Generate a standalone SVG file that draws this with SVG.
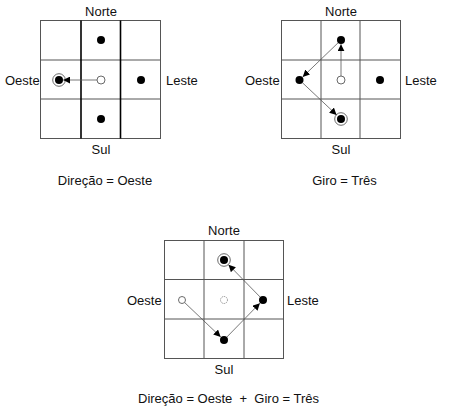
<svg xmlns="http://www.w3.org/2000/svg" width="449" height="413" viewBox="0 0 449 413">
<defs>
<style>
text{font-family:"Liberation Sans",Arial,sans-serif;font-size:13px;fill:#111}
.m{text-anchor:middle}
.g{fill:none;stroke:#555;stroke-width:1}
.gv{stroke:#000;stroke-width:1.6}
.d{fill:#000}
.ring{fill:none;stroke:#444;stroke-width:0.8}
.o{fill:#fff;stroke:#444;stroke-width:0.8}
.od{fill:#fff;stroke:#777;stroke-width:0.8;stroke-dasharray:1.2 0.8}
.a{stroke:#555;stroke-width:0.8;fill:none;marker-end:url(#ah)}
</style>
<marker id="ah" viewBox="0 0 10 10" refX="10" refY="5" markerWidth="7" markerHeight="7" markerUnits="userSpaceOnUse" orient="auto">
<path d="M0,0 L10,5 L0,10 Z" fill="#000"/>
</marker>
</defs>
<g id="grid1">
<rect class="g" x="40.5" y="20.5" width="120" height="118"/>
<line class="g" x1="40.5" y1="60" x2="160.5" y2="60"/>
<line class="g" x1="40.5" y1="99" x2="160.5" y2="99"/>
<line class="g gv" x1="81" y1="20.5" x2="81" y2="138.5"/>
<line class="g gv" x1="120.5" y1="20.5" x2="120.5" y2="138.5"/>
<circle class="d" cx="101" cy="40" r="4"/>
<circle class="d" cx="141" cy="80" r="4"/>
<circle class="d" cx="101" cy="119" r="4"/>
<circle class="d" cx="59" cy="80" r="4"/>
<circle class="ring" cx="59" cy="80" r="6.3"/>
<circle class="o" cx="101" cy="80" r="4"/>
<text class="m" x="101" y="15.5">Norte</text>
<text x="5" y="84.5">Oeste</text>
<text x="166" y="84.5">Leste</text>
<text class="m" x="101" y="153.5">Sul</text>
<text class="m" x="105" y="184.5">Direção = Oeste</text>
</g>
<g id="grid2">
<rect class="g" x="281.5" y="20.5" width="119" height="118"/>
<line class="g" x1="281.5" y1="60" x2="400.5" y2="60"/>
<line class="g" x1="281.5" y1="99" x2="400.5" y2="99"/>
<line class="g" x1="321" y1="20.5" x2="321" y2="138.5"/>
<line class="g" x1="360" y1="20.5" x2="360" y2="138.5"/>
<circle class="d" cx="341" cy="40" r="4"/>
<circle class="d" cx="299.5" cy="80" r="4"/>
<circle class="d" cx="380" cy="80" r="4"/>
<circle class="d" cx="341" cy="119" r="4"/>
<circle class="ring" cx="341" cy="119" r="6.3"/>
<circle class="o" cx="341" cy="80" r="4"/>
<text class="m" x="341" y="15.5">Norte</text>
<text x="245" y="84.5">Oeste</text>
<text x="405" y="84.5">Leste</text>
<text class="m" x="341" y="153.5">Sul</text>
<text class="m" x="344.5" y="184.5">Giro = Três</text>
</g>
<g id="grid3">
<rect class="g" x="164.5" y="240.5" width="119" height="118"/>
<line class="g" x1="164.5" y1="279.5" x2="283.5" y2="279.5"/>
<line class="g" x1="164.5" y1="319" x2="283.5" y2="319"/>
<line class="g" x1="204" y1="240.5" x2="204" y2="358.5"/>
<line class="g" x1="244" y1="240.5" x2="244" y2="358.5"/>
<circle class="d" cx="224" cy="260" r="4"/>
<circle class="ring" cx="224" cy="260" r="6.3"/>
<circle class="d" cx="263" cy="300" r="4"/>
<circle class="d" cx="224" cy="340" r="4"/>
<circle class="o" cx="182" cy="300" r="3.5"/>
<circle class="od" cx="224" cy="300" r="3.5"/>
<text class="m" x="224" y="234.5">Norte</text>
<text x="127" y="304.5">Oeste</text>
<text x="287" y="304.5">Leste</text>
<text class="m" x="224" y="373.5">Sul</text>
<text x="138" y="402.5" xml:space="preserve">Direção = Oeste  +  Giro = Três</text>
</g>
<g id="connectors">
<line class="a" x1="97" y1="80" x2="63.2" y2="80"/>
<line class="a" x1="341" y1="76" x2="341" y2="44.2"/>
<line class="a" x1="338.1" y1="42.8" x2="302.7" y2="76.9"/>
<line class="a" x1="302.4" y1="82.7" x2="336.6" y2="114.9"/>
<line class="a" x1="184.9" y1="302.8" x2="220.7" y2="336.9"/>
<line class="a" x1="226.8" y1="337.1" x2="259.9" y2="303.2"/>
<line class="a" x1="260.2" y1="297.1" x2="228.5" y2="264.7"/>
</g>
</svg>
